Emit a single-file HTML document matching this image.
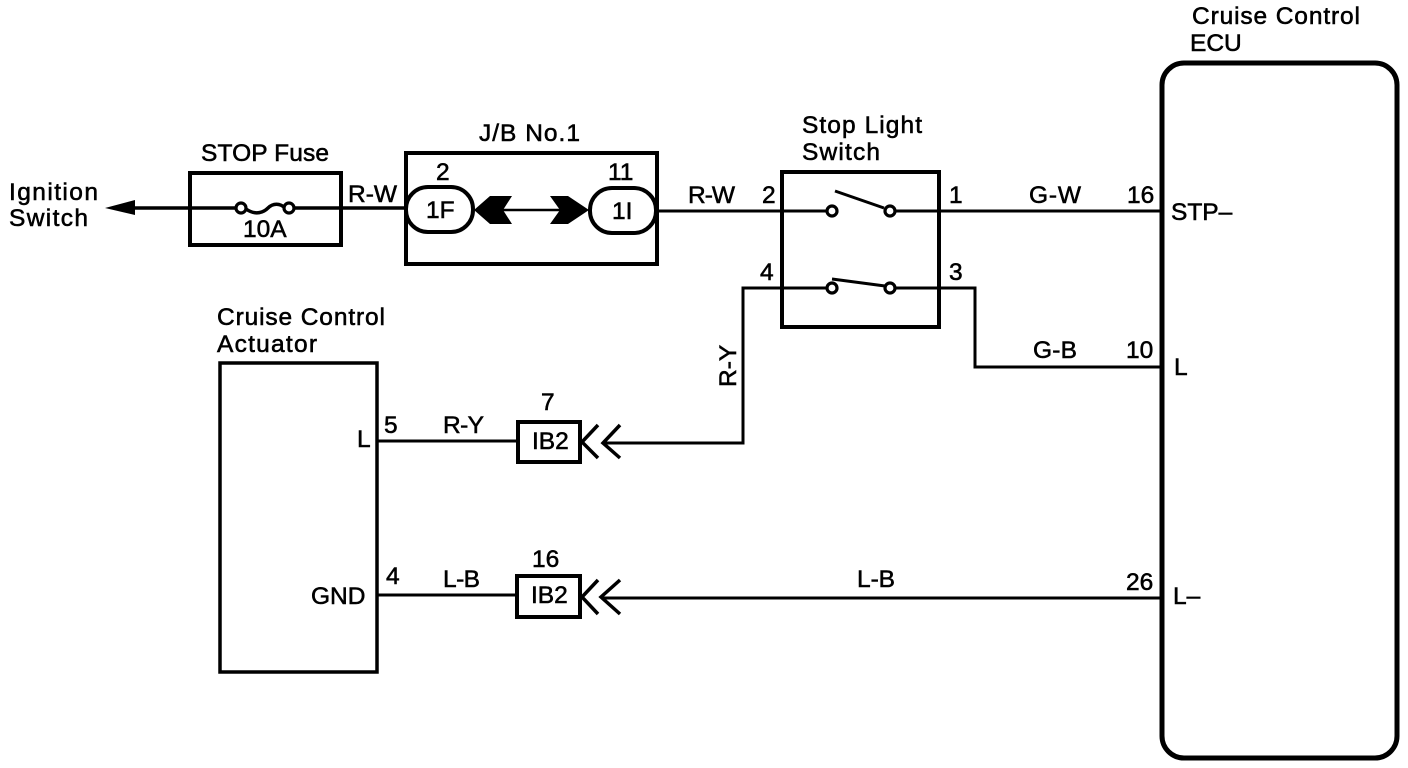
<!DOCTYPE html>
<html>
<head>
<meta charset="utf-8">
<style>
html,body{margin:0;padding:0;background:#fff;width:1408px;height:768px;overflow:hidden}
svg{display:block}
text{font-family:"Liberation Sans",sans-serif;font-size:24.5px;fill:#000;stroke:#000;stroke-width:.55px}
.b{fill:none;stroke:#000;stroke-width:4}
.w{fill:none;stroke:#000;stroke-width:3}
.c{fill:#fff;stroke:#000;stroke-width:3.2}
</style>
</head>
<body>
<svg width="1408" height="768" viewBox="0 0 1408 768" xmlns="http://www.w3.org/2000/svg">
<rect width="1408" height="768" fill="#fff"/>

<!-- Wires -->
<path class="w" style="stroke-width:3.5" d="M130 208H236M294 208H405"/>
<path class="w" d="M657 211H827M895 211H1160"/>
<path class="w" d="M827 288H743V443H603"/>
<path class="w" d="M895 288H975V367H1160"/>
<path class="w" d="M378 441H517"/>
<path class="w" d="M378 595H516"/>
<path class="w" d="M601 598H1160"/>
<path fill="#000" d="M105 208L135 200V215Z"/>

<!-- Fuse -->
<rect class="b" x="190" y="173" width="151" height="72"/>
<path class="w" style="stroke-width:3.5" d="M246 209C256 216 264 212 268 208C273 203 280 203 285 208"/>
<circle class="c" cx="241" cy="208" r="5"/>
<circle class="c" cx="289" cy="208" r="5"/>

<!-- J/B -->
<rect class="b" x="406" y="153" width="251" height="111"/>
<rect class="b" x="406" y="187" width="67" height="45" rx="22" fill="#fff"/>
<rect class="b" x="590" y="188" width="66" height="45" rx="22" fill="#fff"/>
<path class="w" style="stroke-width:2.5" d="M503 210H560"/>
<path fill="#000" d="M474 210L490 196H512L503 210L512 224H490Z"/>
<path fill="#000" d="M550 196H568L589 210L568 224H550L560 210Z"/>

<!-- Stop Light Switch -->
<rect class="b" x="782" y="172" width="157" height="155"/>
<circle class="c" cx="832" cy="211" r="5"/>
<circle class="c" cx="890" cy="211" r="5"/>
<circle class="c" cx="832" cy="288" r="5"/>
<circle class="c" cx="890" cy="288" r="5"/>
<path class="w" d="M835 191L884 208"/>
<path class="w" d="M832 279L885 286"/>

<!-- Actuator -->
<rect class="w" style="stroke-width:3.5" x="220" y="363" width="157" height="309"/>

<!-- IB2 connectors -->
<rect class="b" x="518" y="422" width="62" height="40" fill="#fff"/>
<rect class="b" x="517" y="576" width="63" height="41" fill="#fff"/>
<path class="w" style="stroke-width:3.5" d="M598 425L582 442L598 458M620 425L603 443L620 458"/>
<path class="w" style="stroke-width:3.5" d="M598 580L582 597L598 614M620 580L601 597L620 614"/>

<!-- ECU -->
<rect x="1162" y="63" width="235" height="695" rx="22" ry="22" fill="none" stroke="#000" stroke-width="5"/>

<!-- Labels -->
<text x="9" y="200" textLength="89">Ignition</text>
<text x="9" y="226" textLength="79">Switch</text>
<text x="201" y="161" textLength="128">STOP Fuse</text>
<text x="243" y="237">10A</text>
<text x="348" y="202" textLength="49">R-W</text>
<text x="479" y="141" textLength="101">J/B No.1</text>
<text x="436" y="180">2</text>
<text x="426" y="218">1F</text>
<text x="608" y="180">11</text>
<text x="612" y="219">1I</text>
<text x="688" y="203" textLength="47">R-W</text>
<text x="802" y="133" textLength="120">Stop Light</text>
<text x="802" y="160" textLength="78">Switch</text>
<text x="762" y="203">2</text>
<text x="949" y="203">1</text>
<text x="760" y="280">4</text>
<text x="949" y="280">3</text>
<text x="1029" y="203" textLength="52">G-W</text>
<text x="1033" y="358" textLength="44">G-B</text>
<text x="1127" y="203">16</text>
<text x="1126" y="358">10</text>
<text x="1126" y="590">26</text>
<text x="1192" y="24" textLength="168">Cruise Control</text>
<text x="1190" y="51">ECU</text>
<text x="1171" y="220">STP–</text>
<text x="1174" y="375">L</text>
<text x="1173" y="604">L–</text>
<text x="857" y="587" textLength="38">L-B</text>
<text x="217" y="325" textLength="168">Cruise Control</text>
<text x="217" y="352" textLength="100">Actuator</text>
<text x="357" y="447">L</text>
<text x="311" y="604">GND</text>
<text x="384" y="433">5</text>
<text x="386" y="584">4</text>
<text x="443" y="433" textLength="41">R-Y</text>
<text x="443" y="587" textLength="37">L-B</text>
<text x="541" y="410">7</text>
<text x="532" y="567">16</text>
<text x="532" y="449">IB2</text>
<text x="531" y="603">IB2</text>
<text transform="translate(736 387) rotate(-90)">R-Y</text>
</svg>
</body>
</html>
